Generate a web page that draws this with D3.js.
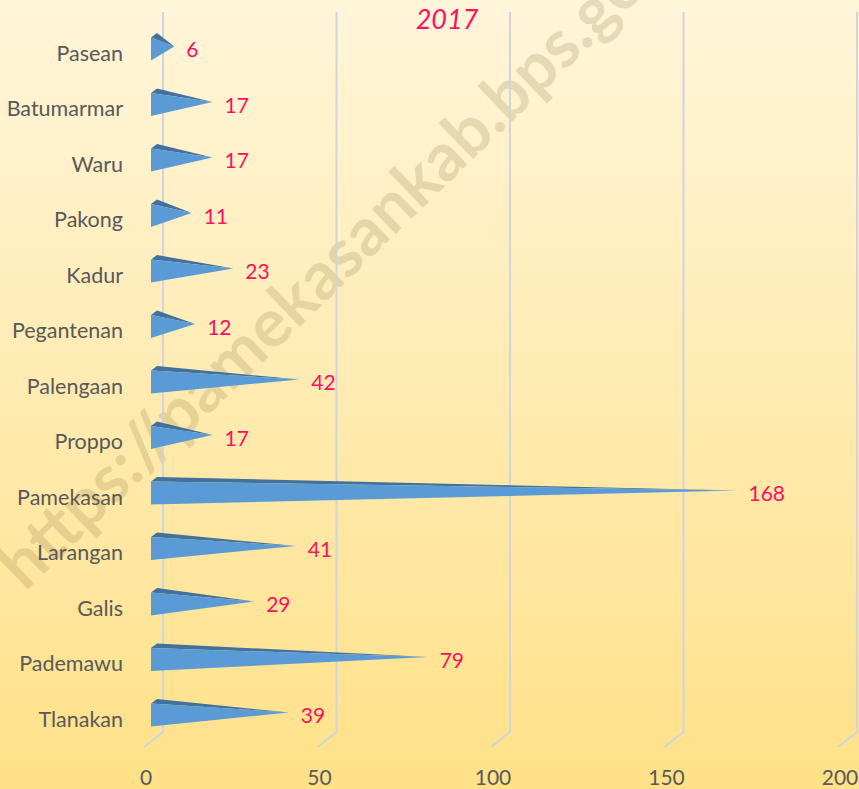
<html>
<script src="https://cdn.jsdelivr.net/npm/d3@7"></script>
<style>
body { margin: 0; }
text { font-family: Lato, "Open Sans", sans-serif; }
</style>
<body></body>
<script>

var categories = ["Pasean", "Batumarmar", "Waru", "Pakong", "Kadur", "Pegantenan",
  "Palengaan", "Proppo", "Pamekasan", "Larangan", "Galis", "Pademawu", "Tlanakan"];
var values = [6, 17, 17, 11, 23, 12, 42, 17, 168, 41, 29, 79, 39];
var ticks = [0, 50, 100, 150, 200];
var title = "2017";

var W = 859, H = 789;
var depthX = 19, depthY = 15;

var svg = d3.select("body").append("svg")
  .attr("width", W)
  .attr("height", H);

var defs = svg.append("defs");
var grad = defs.append("linearGradient")
  .attr("id", "bg")
  .attr("x1", 0).attr("y1", 0).attr("x2", 0).attr("y2", 1);
grad.append("stop").attr("offset", "0%").attr("stop-color", "#fff5da");
grad.append("stop").attr("offset", "100%").attr("stop-color", "#ffe188");

svg.append("rect")
  .attr("width", W)
  .attr("height", H)
  .attr("fill", "url(#bg)");

// front floor scale
var x = d3.scaleLinear().domain([0, 200]).range([144, 838]);
var y = d3.scalePoint().domain(categories).range([49, 715]);

// watermark
svg.append("text")
  .attr("transform", "translate(25,592) rotate(-44)")
  .attr("font-size", 67)
  .attr("font-weight", "bold")
  .attr("fill", "#8c7a4a")
  .attr("fill-opacity", 0.22)
  .text("https://pamekasankab.bps.go.id");

// gridlines (back wall + floor edge)
var grid = svg.append("g");
ticks.forEach(function(t) {
  var bx = x(t) + depthX;
  grid.append("path")
    .attr("d", "M" + bx + ",12 L" + bx + "," + 732 + " L" + x(t) + "," + (732 + depthY))
    .attr("fill", "none")
    .attr("stroke", "#d0d4db")
    .attr("stroke-width", 2);
});

// cone bars
var x0 = 151, half = 11.5;
var bars = svg.append("g");
categories.forEach(function(c, i) {
  var cy = y(c);
  var tipX = x(values[i]) + depthX / 2;
  var tipY = cy - 2.5;
  bars.append("polygon")
    .attr("points", [[x0, cy - half], [x0 + 6, cy - half - 4.5], [tipX, tipY]].join(" "))
    .attr("fill", "#41719c");
  bars.append("polygon")
    .attr("points", [[x0, cy - half], [x0, cy + half], [tipX, tipY]].join(" "))
    .attr("fill", "#5b9bd5");
  svg.append("text")
    .attr("x", tipX + 12)
    .attr("y", tipY + 3)
    .attr("dy", "0.36em")
    .attr("font-size", 21)
    .attr("fill", "#ff0f62")
    .text(values[i]);
  svg.append("text")
    .attr("x", 123)
    .attr("y", cy + 4)
    .attr("dy", "0.36em")
    .attr("text-anchor", "end")
    .attr("font-size", 21.5)
    .attr("fill", "#595959")
    .text(c);
});

// x labels
svg.selectAll(".xl").data(ticks).enter().append("text")
  .attr("class", "xl")
  .attr("x", function(d) { return x(d) + 2; })
  .attr("y", 785)
  .attr("text-anchor", "middle")
  .attr("font-size", 21)
  .attr("fill", "#595959")
  .text(function(d) { return d; });

svg.append("text")
  .attr("x", 447)
  .attr("y", 29)
  .attr("text-anchor", "middle")
  .attr("font-size", 27)
  .attr("font-style", "italic")
  .attr("fill", "#ff0f62")
  .text(title);

</script>
</html>
